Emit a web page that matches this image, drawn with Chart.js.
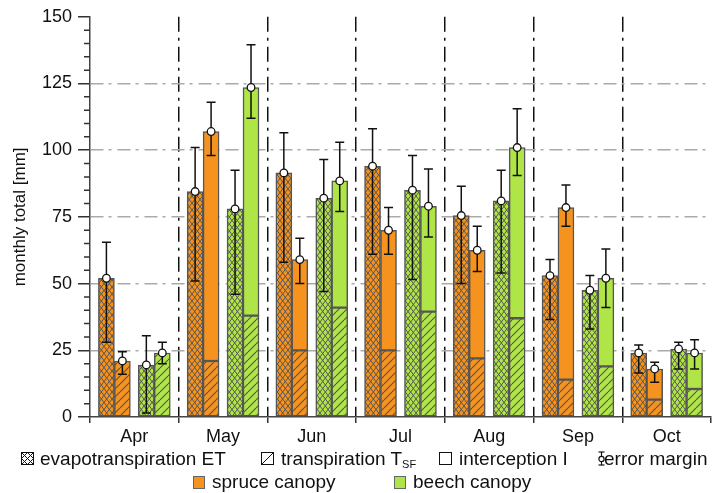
<!DOCTYPE html>
<html>
<head>
<meta charset="utf-8">
<script src="https://cdn.jsdelivr.net/npm/chart.js@4.4.1/dist/chart.umd.min.js"></script>
<style>
  body { margin: 0; background: #fff; }
  #wrap { position: relative; width: 717px; height: 493px; font-family: "Liberation Sans", Arial, sans-serif; color: #111; }
  #chart { position: absolute; left: 0; top: 0; }
  .txt { position: absolute; font-size: 19px; line-height: 19px; white-space: nowrap; }
  .ico { position: absolute; }
  sub { font-size: 11px; vertical-align: -3px; line-height: 0; }
</style>
</head>
<body>
<div id="wrap">
  <canvas id="chart" width="717" height="493"></canvas>

  <svg class="ico" style="left:21px;top:452px" width="13" height="13" viewBox="0 0 13 13">
    <defs><clipPath id="c1"><rect x="0.5" y="0.5" width="12" height="12"/></clipPath></defs>
    <rect x="0.5" y="0.5" width="12" height="12" fill="#fff" stroke="#111"/>
    <g clip-path="url(#c1)" stroke="#111" stroke-width="1">
      <line x1="0.5" y1="0.5" x2="12.5" y2="12.5"/><line x1="12.5" y1="0.5" x2="0.5" y2="12.5"/>
      <line x1="6.5" y1="0.5" x2="12.5" y2="6.5"/><line x1="0.5" y1="6.5" x2="6.5" y2="12.5"/>
      <line x1="6.5" y1="0.5" x2="0.5" y2="6.5"/><line x1="12.5" y1="6.5" x2="6.5" y2="12.5"/>
    </g>
  </svg>
  <div class="txt" style="left:40px;top:449px">evapotranspiration ET</div>

  <svg class="ico" style="left:261px;top:452px" width="13" height="13" viewBox="0 0 13 13">
    <rect x="0.5" y="0.5" width="12" height="12" fill="#fff" stroke="#111"/>
    <line x1="0.5" y1="12.5" x2="12.5" y2="0.5" stroke="#111"/>
  </svg>
  <div class="txt" style="left:281px;top:449px">transpiration T<sub>SF</sub></div>

  <svg class="ico" style="left:439px;top:452px" width="13" height="13" viewBox="0 0 13 13">
    <rect x="0.5" y="0.5" width="12" height="12" fill="#fff" stroke="#111"/>
  </svg>
  <div class="txt" style="left:459px;top:449px">interception I</div>

  <svg class="ico" style="left:597px;top:451px" width="9" height="15" viewBox="0 0 9 15">
    <g stroke="#111" stroke-width="1.2" fill="#fff">
      <line x1="4.5" y1="1" x2="4.5" y2="14"/>
      <line x1="1.5" y1="1" x2="7.5" y2="1"/><line x1="1.5" y1="14" x2="7.5" y2="14"/>
      <circle cx="4.5" cy="8" r="2.6"/>
    </g>
  </svg>
  <div class="txt" style="left:604px;top:449px">error margin</div>

  <svg class="ico" style="left:193px;top:476px" width="12" height="13" viewBox="0 0 12 13">
    <rect x="0.5" y="0.5" width="11" height="12" fill="#F6921E" stroke="#666"/>
  </svg>
  <div class="txt" style="left:212px;top:472px">spruce canopy</div>

  <svg class="ico" style="left:394px;top:476px" width="12" height="13" viewBox="0 0 12 13">
    <rect x="0.5" y="0.5" width="11" height="12" fill="#AFE547" stroke="#666"/>
  </svg>
  <div class="txt" style="left:413px;top:472px">beech canopy</div>
</div>

<script>
const months = ['Apr', 'May', 'Jun', 'Jul', 'Aug', 'Sep', 'Oct'];

// spruce stand, monthly totals in mm
const spruceET = [52, 84.5, 91.5, 94, 75.5, 53, 24];
const spruceETLow = [28, 51, 58, 61, 50, 36.5, 16.5];
const spruceETHigh = [65.5, 101, 106.5, 108, 86.5, 59, 27];
const spruceT = [21, 21, 25, 25, 22, 14, 6.5];
const spruceI = [0, 86, 34, 45, 40.5, 64.5, 11.5];
const spruceTILow = [16, 98, 50, 61, 54.5, 71.5, 13];
const spruceTIHigh = [24.5, 118, 67, 78.5, 71.5, 87, 20.5];

// beech stand, monthly totals in mm
const beechET = [19.5, 78, 82, 85, 81, 47.5, 25.5];
const beechETLow = [1.5, 46, 47, 51.5, 54, 33, 18];
const beechETHigh = [30.5, 92.5, 96.5, 98, 92.5, 53, 28];
const beechT = [24, 38, 41, 39.5, 37, 19, 10.5];
const beechI = [0, 85.5, 47.5, 39.5, 64, 33, 13.5];
const beechTILow = [20, 112, 77, 67.5, 90.5, 41, 18];
const beechTIHigh = [28, 139.5, 103, 93, 115.5, 63, 29];

const ORANGE = '#F6921E';
const GREEN = '#AFE547';
const EDGE = '#555';
const FONT = '"Liberation Sans", Arial, sans-serif';

function crossHatch(bg) {
    const w = 16, h = 21, dx = w / 3;
    const c = document.createElement('canvas');
    c.width = w; c.height = h;
    const g = c.getContext('2d');
    g.fillStyle = bg;
    g.fillRect(0, 0, w, h);
    g.strokeStyle = EDGE;
    g.lineWidth = 1;
    g.beginPath();
    for (let k = -4; k <= 7; k++) {
        g.moveTo(k * dx, 0); g.lineTo(k * dx + w, h);
        g.moveTo(k * dx, 0); g.lineTo(k * dx - w, h);
    }
    g.stroke();
    return g.createPattern(c, 'repeat');
}

function singleHatch(bg) {
    const s = 8;
    const c = document.createElement('canvas');
    c.width = s; c.height = s;
    const g = c.getContext('2d');
    g.fillStyle = bg;
    g.fillRect(0, 0, s, s);
    g.strokeStyle = EDGE;
    g.lineWidth = 1.1;
    g.beginPath();
    for (let k = 0; k <= 2; k++) {
        g.moveTo(k * s, 0); g.lineTo(k * s - s, s);
    }
    g.stroke();
    return g.createPattern(c, 'repeat');
}

// bar centres inside a month, as a fraction of the month's width
const slot = { sET: 0.185, sTI: 0.365, bET: 0.635, bTI: 0.815 };

function place(values, off) {
    return values.map((v, i) => ({ x: i + off, y: v }));
}

function sum(a, b) {
    return a.map((v, i) => v + b[i]);
}

function barSet(label, values, off, stack, fill) {
    return {
        label: label,
        data: place(values, off),
        xAxisID: 'xb',
        stack: stack,
        grouped: false,
        barThickness: 16,
        backgroundColor: fill,
        borderColor: EDGE,
        borderWidth: 1.5,
        borderSkipped: false
    };
}

const datasets = [
    barSet('spruce ET', spruceET, slot.sET, 'sET', crossHatch(ORANGE)),
    barSet('spruce T', spruceT, slot.sTI, 'sTI', singleHatch(ORANGE)),
    barSet('spruce I', spruceI, slot.sTI, 'sTI', ORANGE),
    barSet('beech ET', beechET, slot.bET, 'bET', crossHatch(GREEN)),
    barSet('beech T', beechT, slot.bTI, 'bTI', singleHatch(GREEN)),
    barSet('beech I', beechI, slot.bTI, 'bTI', GREEN)
];

const errorSets = [
    { dataset: 0, value: spruceET, low: spruceETLow, high: spruceETHigh },
    { dataset: 2, value: sum(spruceT, spruceI), low: spruceTILow, high: spruceTIHigh },
    { dataset: 3, value: beechET, low: beechETLow, high: beechETHigh },
    { dataset: 5, value: sum(beechT, beechI), low: beechTILow, high: beechTIHigh }
];

const whiskers = {
    id: 'whiskers',
    afterDatasetsDraw(chart) {
        const ctx = chart.ctx;
        const y = chart.scales.y;
        ctx.save();
        for (const set of errorSets) {
            const meta = chart.getDatasetMeta(set.dataset);
            meta.data.forEach((bar, i) => {
                const x = bar.x;
                const top = y.getPixelForValue(set.high[i]);
                const bot = y.getPixelForValue(set.low[i]);
                const mid = y.getPixelForValue(set.value[i]);
                ctx.strokeStyle = '#111';
                ctx.lineWidth = 1.5;
                ctx.beginPath();
                ctx.moveTo(x, top); ctx.lineTo(x, bot);
                ctx.moveTo(x - 4.5, top); ctx.lineTo(x + 4.5, top);
                ctx.moveTo(x - 4.5, bot); ctx.lineTo(x + 4.5, bot);
                ctx.stroke();
                ctx.beginPath();
                ctx.arc(x, mid, 3.8, 0, Math.PI * 2);
                ctx.fillStyle = '#fff';
                ctx.fill();
                ctx.lineWidth = 1.3;
                ctx.stroke();
            });
        }
        ctx.restore();
    },
    afterDraw(chart) {
        // short minor ticks on the value axis
        const ctx = chart.ctx;
        const y = chart.scales.y;
        const left = chart.chartArea.left;
        ctx.save();
        ctx.strokeStyle = '#333';
        ctx.lineWidth = 1.5;
        ctx.beginPath();
        for (const t of y.ticks) {
            if (t.value % 25 === 0) continue;
            const py = y.getPixelForValue(t.value);
            ctx.moveTo(left - 6, py);
            ctx.lineTo(left, py);
        }
        ctx.stroke();
        ctx.restore();
    }
};

new Chart(document.getElementById('chart'), {
    type: 'bar',
    data: { labels: months, datasets: datasets },
    plugins: [whiskers],
    options: {
        responsive: false,
        animation: false,
        layout: { padding: { left: 0, right: 6, top: 15, bottom: 46 } },
        plugins: {
            legend: { display: false },
            tooltip: { enabled: false }
        },
        scales: {
            x: {
                type: 'category',
                labels: months,
                offset: true,
                grid: {
                    offset: true,
                    color: ctx => (ctx.index > 0 && ctx.index < months.length) ? '#111' : 'rgba(0,0,0,0)',
                    lineWidth: 1.5,
                    tickColor: '#333',
                    tickWidth: 1.5,
                    tickLength: 6,
                    tickBorderDash: []
                },
                border: { color: '#444', width: 1.5, dash: [15, 6, 3, 6] },
                ticks: { font: { family: FONT, size: 18 }, color: '#111', padding: 3 },
                afterFit: s => { s.height = 30; }
            },
            xb: {
                type: 'linear',
                display: false,
                offset: false,
                grid: { offset: false },
                min: 0,
                max: months.length
            },
            y: {
                min: 0,
                max: 150,
                stacked: true,
                ticks: {
                    stepSize: 5,
                    maxTicksLimit: 40,
                    autoSkip: false,
                    callback: v => (v % 25 === 0 ? v : ''),
                    font: { family: FONT, size: 18 },
                    color: '#111',
                    padding: 6
                },
                grid: {
                    color: ctx => {
                        const v = ctx.tick ? ctx.tick.value : 0;
                        return (v % 25 === 0 && v > 0 && v < 150) ? '#aaa' : 'rgba(0,0,0,0)';
                    },
                    lineWidth: 1.5,
                    tickColor: ctx => (ctx.tick && ctx.tick.value % 25 === 0) ? '#333' : 'rgba(0,0,0,0)',
                    tickLength: 12,
                    tickWidth: 1.5,
                    tickBorderDash: []
                },
                border: { color: '#444', width: 1.5, dash: [13, 5, 3, 6] },
                title: {
                    display: true,
                    text: 'monthly total [mm]',
                    font: { family: FONT, size: 17 },
                    color: '#111',
                    padding: { top: 10, bottom: 0 }
                },
                afterFit: s => { s.width = 90; }
            }
        }
    }
});
</script>
</body>
</html>
